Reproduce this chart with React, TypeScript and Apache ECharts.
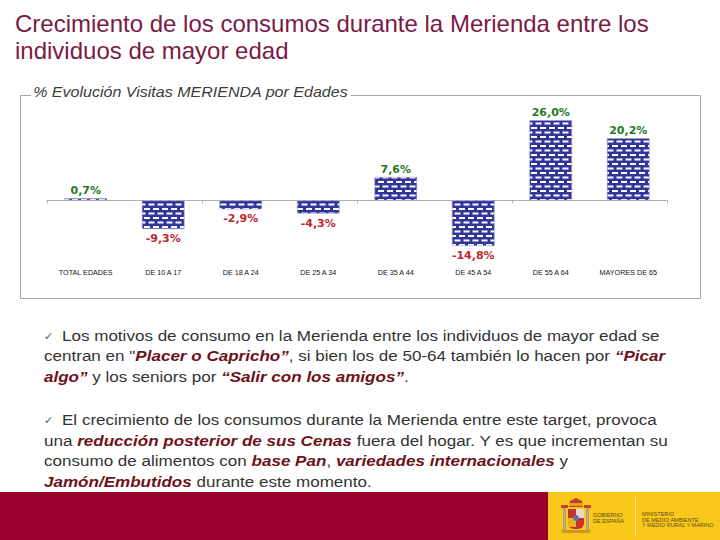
import React, { useEffect, useRef } from "react";
import * as echarts from "echarts";

const categories = [
  "TOTAL EDADES",
  "DE 10 A 17",
  "DE 18 A 24",
  "DE 25 A 34",
  "DE 35 A 44",
  "DE 45 A 54",
  "DE 55 A 64",
  "MAYORES DE 65",
];
const values = [0.7, -9.3, -2.9, -4.3, 7.6, -14.8, 26.0, 20.2];

const titleLines = [
  "Crecimiento de los consumos durante la Merienda entre los",
  "individuos de mayor edad",
];
const chartTitle = "% Evolución Visitas MERIENDA por Edades";

// [text, emphasised]
const para1: [string, boolean][][] = [
  [["Los motivos de consumo en la Merienda entre los individuos de mayor edad se", false]],
  [
    ["centran en \"", false],
    ["Placer o Capricho”", true],
    [", si bien los de 50-64 también lo hacen por ", false],
    ["“Picar", true],
  ],
  [
    ["algo”", true],
    [" y los seniors por ", false],
    ["“Salir con los amigos”", true],
    [".", false],
  ],
];
const para2: [string, boolean][][] = [
  [["El crecimiento de los consumos durante la Merienda entre este target, provoca", false]],
  [
    ["una ", false],
    ["reducción posterior de sus Cenas", true],
    [" fuera del hogar. Y es que incrementan su", false],
  ],
  [
    ["consumo de alimentos con ", false],
    ["base Pan", true],
    [", ", false],
    ["variedades internacionales", true],
    [" y", false],
  ],
  [
    ["Jamón/Embutidos", true],
    [" durante este momento.", false],
  ],
];
const para1Y = [335, 355.5, 376];
const para2Y = [419.5, 440, 460.5, 481];

const FONT = "'Liberation Sans', Arial, sans-serif";

function richText(segs: [string, boolean][]) {
  return segs.map(([t, b]) => `{${b ? "b" : "n"}|${t}}`).join("");
}

function makePattern() {
  const cv = document.createElement("canvas");
  cv.width = 18;
  cv.height = 18;
  const ctx = cv.getContext("2d")!;
  ctx.fillStyle = "#313499";
  ctx.fillRect(0, 0, 18, 18);
  ctx.fillStyle = "#ffffff";
  ctx.fillRect(0, 2, 12, 4);
  ctx.fillRect(9, 11, 9, 4);
  ctx.fillRect(0, 11, 3, 4);
  return { image: cv, repeat: "repeat", imageWidth: 9, imageHeight: 9 };
}

export default function App() {
  const ref = useRef<HTMLDivElement>(null);
  useEffect(() => {
    if (!ref.current) return;
    const chart = echarts.init(ref.current, null, { renderer: "svg" });
    const rich = {
      n: { fontFamily: FONT, fontSize: 15.5, fill: "#333333" },
      b: {
        fontFamily: FONT,
        fontSize: 15.5,
        fill: "#6e1219",
        fontWeight: "bold",
        fontStyle: "italic",
      },
    };
    const graphics: any[] = [];
    // frame
    graphics.push({
      type: "rect",
      shape: { x: 20.5, y: 95.5, width: 680, height: 203 },
      style: { fill: "none", stroke: "#a6a6a6", lineWidth: 1 },
      z: 1,
    });
    graphics.push({
      type: "text",
      x: 31,
      y: 92,
      z: 2,
      scaleX: 1.07,
      style: {
        text: chartTitle,
        fontFamily: FONT,
        fontSize: 15,
        fontStyle: "italic",
        fill: "#3c3c3c",
        backgroundColor: "#ffffff",
        padding: [0, 2],
        verticalAlign: "middle",
      },
    });
    titleLines.forEach((t, i) => {
      graphics.push({
        type: "text",
        x: 15,
        y: 23.5 + i * 27,
        style: {
          text: t,
          fontFamily: FONT,
          fontSize: 24,
          fill: "#7a1a45",
          verticalAlign: "middle",
        },
      });
    });
    const check = (y: number) => ({
      type: "text",
      x: 44,
      y,
      style: {
        text: "✓",
        fontFamily: "'DejaVu Sans', sans-serif",
        fontSize: 11,
        fill: "#555555",
        verticalAlign: "middle",
      },
    });
    graphics.push(check(para1Y[0] + 1));
    graphics.push(check(para2Y[0] + 1));
    const addPara = (para: [string, boolean][][], ys: number[]) => {
      para.forEach((segs, i) => {
        graphics.push({
          type: "text",
          x: i === 0 ? 62 : 44,
          y: ys[i],
          scaleX: 1.1,
          style: { text: richText(segs), rich, verticalAlign: "middle" },
        });
      });
    };
    addPara(para1, para1Y);
    addPara(para2, para2Y);
    // footer
    graphics.push({
      type: "rect",
      shape: { x: 0, y: 492, width: 720, height: 48 },
      style: { fill: "#98002e" },
    });
    graphics.push({
      type: "rect",
      shape: { x: 548, y: 492, width: 172, height: 48 },
      style: { fill: "#f9c81a" },
    });
    graphics.push({
      type: "line",
      shape: { x1: 635.5, y1: 496, x2: 635.5, y2: 536 },
      style: { stroke: "#fde383", lineWidth: 1 },
    });
    // coat of arms (simplified)
    graphics.push({
      type: "group",
      children: [
        { type: "rect", shape: { x: 563, y: 507, width: 3, height: 23 }, style: { fill: "#b9a37a" } },
        { type: "rect", shape: { x: 586, y: 507, width: 3, height: 23 }, style: { fill: "#b9a37a" } },
        { type: "rect", shape: { x: 561, y: 505, width: 7, height: 3 }, style: { fill: "#c4462a" } },
        { type: "rect", shape: { x: 584, y: 505, width: 7, height: 3 }, style: { fill: "#c4462a" } },
        { type: "polygon", shape: { points: [[569, 507], [583, 507], [582, 501], [576, 498], [570, 501]] }, style: { fill: "#c0392b" } },
        { type: "rect", shape: { x: 569, y: 503, width: 14, height: 3 }, style: { fill: "#e2a21a" } },
        { type: "rect", shape: { x: 568, y: 509, width: 16, height: 20, r: [0, 0, 6, 6] }, style: { fill: "#c8312c" } },
        { type: "rect", shape: { x: 576, y: 509, width: 8, height: 9 }, style: { fill: "#e8d8d0" } },
        { type: "rect", shape: { x: 568, y: 518, width: 8, height: 9 }, style: { fill: "#e6b420" } },
        { type: "circle", shape: { cx: 576, cy: 518, r: 3 }, style: { fill: "#5b6fb5" } },
        { type: "rect", shape: { x: 562, y: 530, width: 28, height: 3 }, style: { fill: "#c59a2a" } },
      ],
    });
    const logoText = (t: string, x: number, y: number) => ({
      type: "text",
      x,
      y,
      style: {
        text: t,
        fontFamily: FONT,
        fontSize: 5.5,
        fill: "#5b4a1e",
        verticalAlign: "middle",
      },
    });
    graphics.push(logoText("GOBIERNO", 593, 515));
    graphics.push(logoText("DE ESPAÑA", 593, 521));
    graphics.push(logoText("MINISTERIO", 642, 514));
    graphics.push(logoText("DE MEDIO AMBIENTE", 642, 519.5));
    graphics.push(logoText("Y MEDIO RURAL Y MARINO", 642, 525));

    const pattern = makePattern();

    chart.setOption({
      animation: false,
      backgroundColor: "#ffffff",
      grid: { left: 47, right: 53, top: 108, height: 154, containLabel: false },
      xAxis: [
        {
          type: "category",
          data: categories,
          axisLine: { onZero: true, lineStyle: { color: "#b0b0b0", width: 1 } },
          axisTick: { show: true, length: 3, lineStyle: { color: "#b0b0b0" } },
          axisLabel: { show: false },
        },
        {
          type: "category",
          data: categories,
          position: "bottom",
          axisLine: { show: false },
          axisTick: { show: false },
          axisLabel: {
            show: true,
            margin: 7,
            fontFamily: FONT,
            fontSize: 7.2,
            color: "#111111",
            interval: 0,
          },
        },
      ],
      yAxis: {
        type: "value",
        min: -20,
        max: 30,
        show: false,
        splitLine: { show: false },
      },
      series: [
        {
          type: "bar",
          xAxisIndex: 0,
          barWidth: "55%",
          data: values.map((v) => ({
            value: v,
            label: {
              position: v >= 0 ? "top" : "bottom",
              distance: v >= 0 ? 2 : 4,
              color: v >= 0 ? "#257a1f" : "#c0262d",
            },
          })),
          itemStyle: { color: pattern as any, borderColor: "#9a9cd0", borderWidth: 0.6 },
          label: {
            show: true,
            fontFamily: "'DejaVu Sans', Verdana, sans-serif",
            fontWeight: "bold",
            fontSize: 11,
            formatter: (p: any) => p.value.toFixed(1).replace(".", ",") + "%",
          },
        },
      ],
      graphic: graphics,
    });
    return () => chart.dispose();
  }, []);
  return (
    <div
      ref={ref}
      style={{ position: "fixed", left: 0, top: 0, width: 720, height: 540, background: "#fff" }}
    />
  );
}
